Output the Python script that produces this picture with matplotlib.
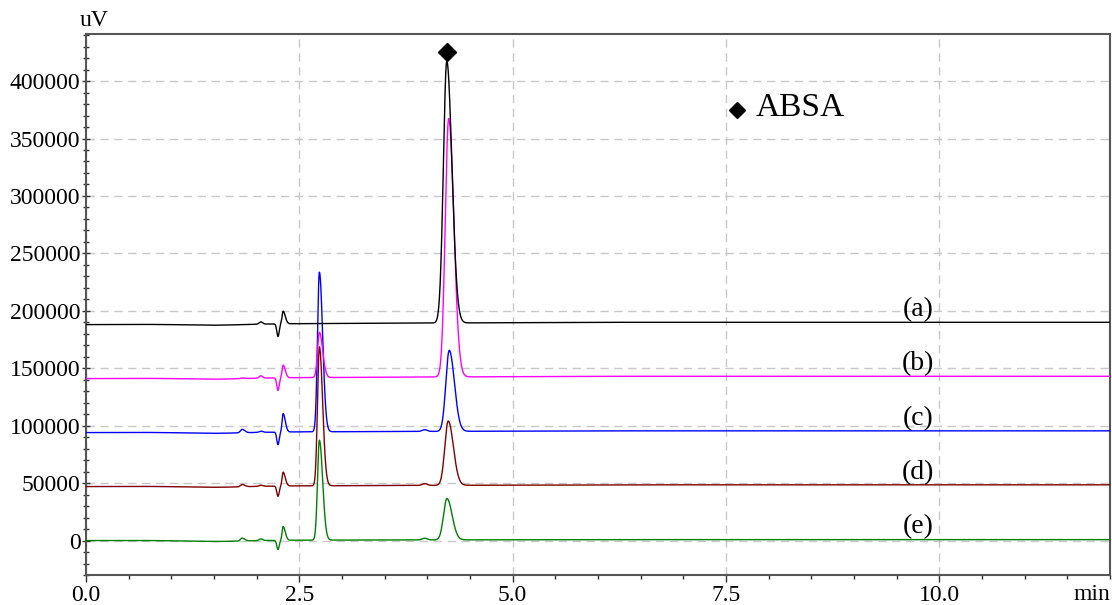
import numpy as np
import matplotlib
matplotlib.use("Agg")
import matplotlib.pyplot as plt
from matplotlib.ticker import MultipleLocator, FuncFormatter

# ---------------- data ----------------
labels = ["(a)", "(b)", "(c)", "(d)", "(e)"]
colors = ["#000000", "#ff00ff", "#0000ff", "#800000", "#008000"]
baseline_start = [188000, 141000, 94000, 47000, 0]
baseline_end = [190000, 143000, 95500, 48500, 800]

# peak retention times (min) shared by all traces
bump1_time = 1.83
bump2_time = 2.05
dip_time = 2.25
solvent_time = 2.31
peak2_time = 2.735
bump3_time = 3.97
main_peak_time = [4.228, 4.250, 4.257, 4.245, 4.230]

# peak heights above baseline (uV), one per trace
bump1_height = [0, 500, 3000, 2000, 2500]
bump2_height = [2000, 2000, 1000, 1000, 1500]
dip_height = [-11000, -11000, -11000, -9000, -8000]
solvent_height = [11000, 11000, 16000, 12000, 12000]
peak2_height = [0, 39500, 139000, 121000, 87000]
bump3_height = [0, 0, 1500, 1500, 1500]
main_peak_height = [228000, 225000, 70500, 56000, 36000]

label_x = 9.75
label_offset = 11000
marker_time = 4.228
marker_value = 425000
legend_marker = (7.63, 375000)
legend_text = "ABSA"

x_max = 12.0
y_min, y_max = -30000, 441000


def peak(t, c, h, sl, sr):
    s = np.where(t < c, sl, sr)
    return h * np.exp(-0.5 * ((t - c) / s) ** 2)


t = np.arange(0, x_max + 0.001, 0.002)

fig = plt.figure(figsize=(11.12, 6.05), dpi=100)
ax = fig.add_axes([86 / 1112, 30 / 605, 1024 / 1112, 541 / 605])

serif = ["Liberation Serif", "DejaVu Serif"]

for i in range(len(labels)):
    base = baseline_start[i] + (baseline_end[i] - baseline_start[i]) * np.clip(t / 6.0, 0, 1)
    y = base.copy()
    y += peak(t, 1.5, -1000, 0.35, 0.35)
    y += peak(t, bump1_time, bump1_height[i], 0.02, 0.03)
    y += peak(t, bump2_time, bump2_height[i], 0.02, 0.02)
    y += peak(t, dip_time, dip_height[i], 0.014, 0.014)
    y += peak(t, solvent_time, solvent_height[i], 0.012, 0.025)
    y += peak(t, peak2_time, peak2_height[i], 0.022, 0.038)
    y += peak(t, bump3_time, bump3_height[i], 0.03, 0.03)
    y += peak(t, main_peak_time[i], main_peak_height[i], 0.04, 0.06)
    ax.plot(t, y, color=colors[i], lw=1.0, zorder=3 + (len(labels) - i) * 0.01)
    ax.text(label_x, baseline_end[i] + label_offset, labels[i], ha="center", va="center",
            fontsize=20, family=serif, zorder=5)

ax.plot([marker_time], [marker_value], marker="D", color="black", ms=9, zorder=6)
ax.plot([legend_marker[0]], [legend_marker[1]], marker="D", color="black", ms=8, zorder=6)
ax.text(legend_marker[0] + 0.22, legend_marker[1] + 2000, legend_text, ha="left", va="center",
        fontsize=24, family=serif)

ax.set_xlim(0, x_max)
ax.set_ylim(y_min, y_max)
ax.xaxis.set_major_locator(MultipleLocator(2.5))
ax.xaxis.set_minor_locator(MultipleLocator(0.5))
ax.yaxis.set_major_locator(MultipleLocator(50000))
ax.yaxis.set_minor_locator(MultipleLocator(10000))
ax.xaxis.set_major_formatter(FuncFormatter(lambda v, p: f"{v:.1f}"))
ax.yaxis.set_major_formatter(FuncFormatter(lambda v, p: f"{int(round(v))}"))

ax.grid(True, which="major", color="#c8c8c8", linestyle=(0, (6, 4)), lw=1.0, zorder=0)
ax.tick_params(axis="x", which="major", direction="out", length=5, width=1, color="#333333",
               labelsize=17, pad=2)
ax.tick_params(axis="x", which="minor", direction="out", length=3, width=1, color="#333333")
ax.tick_params(axis="y", which="major", direction="inout", length=6, width=1, color="#333333",
               labelsize=17, pad=1)
ax.tick_params(axis="y", which="minor", direction="inout", length=4, width=1, color="#333333")
for lab in ax.get_xticklabels() + ax.get_yticklabels():
    lab.set_family(serif)
for sp in ax.spines.values():
    sp.set_color("#555555")
    sp.set_linewidth(1.5)

fig.text(94 / 1112, 1 - 20 / 605, "uV", ha="center", va="center", fontsize=17, family=serif)
fig.text(1092 / 1112, 1 - 594 / 605, "min", ha="center", va="center", fontsize=17, family=serif)

fig.savefig("out.png", dpi=100)
